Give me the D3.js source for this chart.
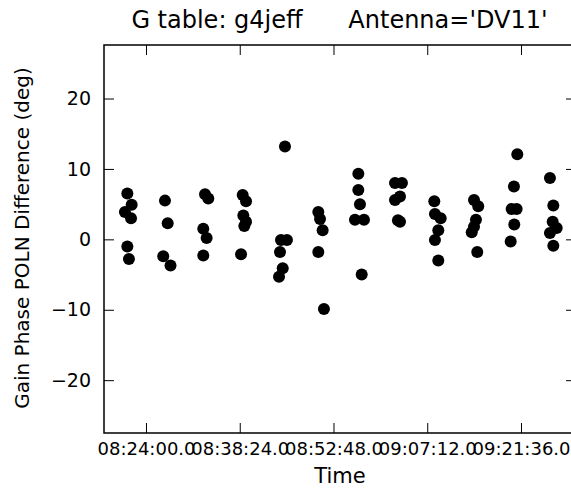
<!DOCTYPE html>
<html><head><meta charset="utf-8">
<script src="https://cdn.jsdelivr.net/npm/d3@7"></script>
<style>body{margin:0;background:#fff}svg{display:block}text{font-family:"DejaVu Sans",sans-serif;fill:#000}</style>
</head><body>
<script>
// Data
const times = [
  "08:21:08","08:21:48","08:20:46","08:21:42","08:21:08","08:21:23",
  "08:26:55","08:27:20","08:26:39","08:27:46",
  "08:33:04","08:33:34","08:32:48","08:33:19","08:32:48",
  "08:38:51","08:39:22","08:38:57","08:39:22","08:39:06","08:38:36",
  "08:45:21","08:44:44","08:45:39","08:44:35","08:45:00","08:44:26",
  "08:50:28","08:50:44","08:51:08","08:50:28","08:51:20",
  "08:56:37","08:56:37","08:56:52","08:56:06","08:57:29","08:57:08",
  "09:02:15","09:03:19","09:02:15","09:03:01","09:02:42","09:03:01",
  "09:08:17","09:08:23","09:09:16","09:08:54","09:08:23","09:08:54",
  "09:14:23","09:15:02","09:14:41","09:14:23","09:14:02","09:14:53",
  "09:21:02","09:20:31","09:20:10","09:20:56","09:20:34","09:20:01",
  "09:26:03","09:26:34","09:26:28","09:27:05","09:26:03","09:26:34"
];
const phaseDiff = [
  6.5,4.9,3.9,3.0,-1.0,-2.8,
  5.5,2.3,-2.4,-3.7,
  6.4,5.8,1.5,0.2,-2.3,
  6.3,5.4,3.4,2.5,1.9,-2.1,
  13.2,-0.1,-0.1,-1.8,-4.1,-5.3,
  3.9,2.9,1.3,-1.8,-9.9,
  9.3,7.0,5.0,2.8,2.8,-5.0,
  8.0,8.0,5.6,6.1,2.7,2.5,
  5.4,3.6,3.0,1.3,-0.1,-3.0,
  5.6,4.7,2.8,1.8,1.0,-1.8,
  12.1,7.5,4.3,4.3,2.1,-0.3,
  8.7,4.8,2.5,1.6,0.9,-0.9
];
const xDomain = ["08:17:33","09:30:03"];
const xTicks = ["08:24:00","08:38:24","08:52:48","09:07:12","09:21:36"];
const yDomain = [-27.5, 27.6];
const yTicks = [-20,-10,0,10,20];
const titleText = "G table: g4jeff      Antenna='DV11'";
const xLabel = "Time";
const yLabel = "Gain Phase POLN Difference (deg)";

const W = 571, H = 488;
const m = {left:104, right:576, top:45, bottom:433};
const toSec = s => { const p = s.split(":").map(Number); return p[0]*3600+p[1]*60+p[2]; };
const fmtTime = sec => { const h=Math.floor(sec/3600), mi=Math.floor(sec%3600/60), s=sec%60;
  const z=v=>String(v).padStart(2,"0"); return `${z(h)}:${z(mi)}:${z(s)}.0`; };

const x = d3.scaleLinear().domain(xDomain.map(toSec)).range([m.left, m.right]);
const y = d3.scaleLinear().domain(yDomain).range([m.bottom, m.top]);

const svg = d3.select("body").append("svg").attr("width", W).attr("height", H);

const tickLen = 10;
const fmtY = v => (v<0?"\u2212":"") + Math.abs(v);

const xAxisB = d3.axisBottom(x).tickValues(xTicks.map(toSec)).tickSizeInner(-tickLen).tickSizeOuter(0).tickPadding(9).tickFormat(fmtTime);
const gB = svg.append("g").attr("transform",`translate(0,${m.bottom})`).call(xAxisB);
const xAxisT = d3.axisTop(x).tickValues(xTicks.map(toSec)).tickSizeInner(-tickLen).tickSizeOuter(0).tickFormat("");
const gT = svg.append("g").attr("transform",`translate(0,${m.top})`).call(xAxisT);
const yAxisL = d3.axisLeft(y).tickValues(yTicks).tickSizeInner(-tickLen).tickSizeOuter(0).tickPadding(13).tickFormat(fmtY);
const gL = svg.append("g").attr("transform",`translate(${m.left},0)`).call(yAxisL);
const yAxisR = d3.axisRight(y).tickValues(yTicks).tickSizeInner(-tickLen).tickSizeOuter(0).tickFormat("");
const gR = svg.append("g").attr("transform",`translate(${m.right},0)`).call(yAxisR);
[gB,gT,gL,gR].forEach(g=>{ g.select(".domain").remove(); g.selectAll("line").attr("stroke","#000").attr("stroke-width",1);
  g.selectAll("text").attr("font-family","DejaVu Sans").attr("fill","#000"); });
gB.selectAll("text").attr("font-size",18).attr("dy","0.71em");
gL.selectAll("text").attr("font-size",19);

svg.append("rect").attr("x",m.left).attr("y",m.top).attr("width",m.right-m.left).attr("height",m.bottom-m.top)
  .attr("fill","none").attr("stroke","#000").attr("stroke-width",1.5);

svg.append("g").selectAll("circle").data(times.map((t,i)=>({t:toSec(t), v:phaseDiff[i]}))).join("circle")
  .attr("cx",d=>x(d.t)).attr("cy",d=>y(d.v)).attr("r",6).attr("fill","#000");

svg.append("text").attr("x",339.5).attr("y",28).attr("text-anchor","middle")
  .attr("font-size",24).style("white-space","pre").text(titleText);
svg.append("text").attr("x",(m.left+m.right)/2).attr("y",483).attr("text-anchor","middle")
  .attr("font-size",21).text(xLabel);
svg.append("text").attr("transform",`translate(29,${(m.top+m.bottom)/2 - 1}) rotate(-90)`).attr("text-anchor","middle")
  .attr("font-size",20).text(yLabel);
</script>
</body></html>
